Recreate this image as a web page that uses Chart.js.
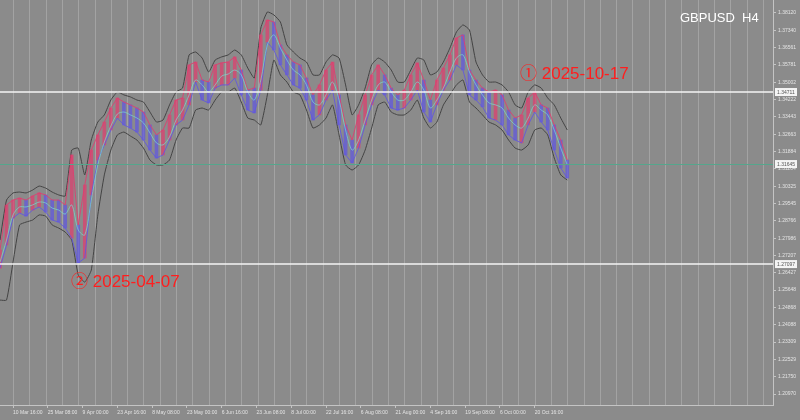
<!DOCTYPE html>
<html lang="en">
<head>
  <meta charset="UTF-8" />
  <title>GBPUSD H4</title>
  <script src="https://cdn.jsdelivr.net/npm/chart.js"></script>
  <style>
    html, body { margin: 0; padding: 0; background: #8b8b8b; }
    #wrap { width: 800px; height: 420px; }
  </style>
</head>
<body>
  <div id="wrap"><canvas id="chart" width="800" height="420"></canvas></div>

  <script>
    // 2-day steps, price range of each step
    const highs = [
      1.2745, 1.2948, 1.2970, 1.2979, 1.2970, 1.2988, 1.3002, 1.2993, 1.2970, 1.2970,
      1.2948, 1.3173, 1.2858, 1.3038, 1.3195, 1.3263, 1.3321, 1.3384, 1.3429, 1.3411,
      1.3398, 1.3384, 1.3366, 1.3308, 1.3263, 1.3285, 1.3353, 1.3420, 1.3429, 1.3578,
      1.3591, 1.3510, 1.3501, 1.3578, 1.3587, 1.3591, 1.3614, 1.3555, 1.3465, 1.3474,
      1.3713, 1.3780, 1.3771, 1.3668, 1.3623, 1.3591, 1.3578, 1.3519, 1.3443, 1.3488,
      1.3555, 1.3591, 1.3443, 1.3308, 1.3240, 1.3353, 1.3443, 1.3533, 1.3578, 1.3533,
      1.3474, 1.3443, 1.3465, 1.3533, 1.3587, 1.3510, 1.3420, 1.3510, 1.3564, 1.3623,
      1.3699, 1.3713, 1.3555, 1.3510, 1.3474, 1.3456, 1.3465, 1.3443, 1.3375, 1.3339,
      1.3353, 1.3429, 1.3456, 1.3398, 1.3384, 1.3308, 1.3240, 1.3150
    ];
    const lows = [
      1.2664, 1.2768, 1.2889, 1.2912, 1.2898, 1.2925, 1.2939, 1.2916, 1.2880, 1.2871,
      1.2844, 1.2799, 1.2687, 1.2709, 1.2993, 1.3150, 1.3218, 1.3285, 1.3339, 1.3308,
      1.3294, 1.3276, 1.3240, 1.3195, 1.3159, 1.3173, 1.3240, 1.3308, 1.3330, 1.3398,
      1.3501, 1.3420, 1.3407, 1.3474, 1.3488, 1.3488, 1.3519, 1.3443, 1.3375, 1.3362,
      1.3465, 1.3681, 1.3645, 1.3578, 1.3533, 1.3488, 1.3474, 1.3420, 1.3330, 1.3353,
      1.3420, 1.3465, 1.3308, 1.3173, 1.3137, 1.3204, 1.3308, 1.3398, 1.3465, 1.3443,
      1.3384, 1.3375, 1.3384, 1.3420, 1.3465, 1.3366, 1.3321, 1.3398, 1.3465, 1.3510,
      1.3578, 1.3555, 1.3443, 1.3420, 1.3389, 1.3339, 1.3330, 1.3308, 1.3263, 1.3240,
      1.3227, 1.3308, 1.3366, 1.3321, 1.3285, 1.3195, 1.3114, 1.3069
    ];
    const bbUpper = [
      1.2790, 1.2970, 1.3002, 1.3006, 1.3002, 1.3015, 1.3033, 1.3024, 1.3006, 1.2993,
      1.2988, 1.3195, 1.3204, 1.3083, 1.3240, 1.3321, 1.3353, 1.3420, 1.3456, 1.3443,
      1.3434, 1.3420, 1.3411, 1.3366, 1.3321, 1.3330, 1.3398, 1.3456, 1.3474, 1.3623,
      1.3636, 1.3609, 1.3546, 1.3600, 1.3614, 1.3623, 1.3645, 1.3623, 1.3564, 1.3519,
      1.3744, 1.3816, 1.3803, 1.3771, 1.3668, 1.3636, 1.3609, 1.3591, 1.3533, 1.3533,
      1.3591, 1.3623, 1.3609, 1.3488, 1.3353, 1.3398, 1.3474, 1.3578, 1.3609, 1.3591,
      1.3555, 1.3501, 1.3501, 1.3555, 1.3609, 1.3600, 1.3533, 1.3546, 1.3591, 1.3654,
      1.3726, 1.3758, 1.3735, 1.3591, 1.3533, 1.3501, 1.3501, 1.3488, 1.3456, 1.3398,
      1.3384, 1.3456, 1.3488, 1.3474, 1.3429, 1.3398, 1.3339, 1.3285
    ];
    const bbLower = [
      1.2520, 1.2520, 1.2691, 1.2858, 1.2871, 1.2880, 1.2903, 1.2898, 1.2858, 1.2844,
      1.2826, 1.2790, 1.2633, 1.2601, 1.2655, 1.2903, 1.3083, 1.3195, 1.3263, 1.3276,
      1.3258, 1.3240, 1.3204, 1.3150, 1.3128, 1.3128, 1.3150, 1.3240, 1.3294, 1.3294,
      1.3375, 1.3384, 1.3375, 1.3420, 1.3456, 1.3456, 1.3474, 1.3411, 1.3339, 1.3330,
      1.3308, 1.3443, 1.3600, 1.3533, 1.3501, 1.3456, 1.3443, 1.3375, 1.3294, 1.3308,
      1.3339, 1.3398, 1.3263, 1.3128, 1.3105, 1.3128, 1.3195, 1.3294, 1.3398, 1.3411,
      1.3366, 1.3353, 1.3353, 1.3375, 1.3420, 1.3339, 1.3294, 1.3321, 1.3398, 1.3443,
      1.3488, 1.3510, 1.3411, 1.3384, 1.3353, 1.3321, 1.3308, 1.3285, 1.3240, 1.3204,
      1.3195, 1.3218, 1.3285, 1.3294, 1.3263, 1.3159, 1.3083, 1.3060
    ];
    const maLine = [
      1.2691, 1.2790, 1.2903, 1.2939, 1.2939, 1.2948, 1.2961, 1.2957, 1.2934, 1.2925,
      1.2907, 1.2948, 1.2835, 1.2813, 1.2970, 1.3128, 1.3231, 1.3303, 1.3357, 1.3366,
      1.3353, 1.3339, 1.3317, 1.3272, 1.3227, 1.3218, 1.3254, 1.3330, 1.3375, 1.3443,
      1.3510, 1.3488, 1.3456, 1.3488, 1.3528, 1.3537, 1.3555, 1.3533, 1.3456, 1.3420,
      1.3510, 1.3668, 1.3713, 1.3654, 1.3600, 1.3555, 1.3533, 1.3488, 1.3411, 1.3398,
      1.3443, 1.3501, 1.3420, 1.3285, 1.3195, 1.3240, 1.3330, 1.3420, 1.3488, 1.3501,
      1.3456, 1.3420, 1.3420, 1.3456, 1.3501, 1.3465, 1.3384, 1.3420, 1.3474, 1.3546,
      1.3609, 1.3623, 1.3546, 1.3488, 1.3443, 1.3407, 1.3398, 1.3384, 1.3339, 1.3308,
      1.3294, 1.3339, 1.3398, 1.3375, 1.3353, 1.3285, 1.3204, 1.3128
    ];

    // x axis is in trading days (6 H4 bars per day)
    const days = highs.map((_, i) => i * 2);
    const dateLabels = [
      '10 Mar 16:00', '25 Mar 08:00', '9 Apr 00:00', '23 Apr 16:00', '8 May 08:00',
      '23 May 00:00', '6 Jun 16:00', '23 Jun 08:00', '8 Jul 00:00', '22 Jul 16:00',
      '6 Aug 08:00', '21 Aug 00:00', '4 Sep 16:00', '19 Sep 08:00', '6 Oct 00:00',
      '20 Oct 16:00'
    ];
    const labelDays = dateLabels.map((_, i) => 4 + i * 64 / 6);
    const gridDays = [];
    for (let d = 4; d < 237; d += 5) gridDays.push(d);

    const priceTicks = [
      1.38120, 1.37340, 1.36561, 1.35781, 1.35002, 1.34222, 1.33443, 1.32663,
      1.31884, 1.31104, 1.30325, 1.29545, 1.28766, 1.27986, 1.27207, 1.26427,
      1.25648, 1.24868, 1.24088, 1.23309, 1.22529, 1.21750, 1.20970
    ];

    // horizontal levels
    const levelValues = [1.3456, 1.2682];
    const levelLabels = ['1.34711', '1.27097'];
    const bidValue = 1.3132;
    const bidLabel = '1.31645';

    const TICK_COLOR = '#e4e4e4';
    const FRAME = '#c4c4c4';

    const noPad = s => {
      s.paddingTop = 0; s.paddingBottom = 0; s.paddingLeft = 0; s.paddingRight = 0;
    };

    const overlay = {
      id: 'overlay',
      beforeDatasetsDraw(chart) {
        const { ctx, chartArea, scales } = chart;
        ctx.save();
        ctx.strokeStyle = '#a3a3a3';
        ctx.lineWidth = 1;
        gridDays.forEach(d => {
          const x = Math.round(scales.x.getPixelForValue(d)) + 0.5;
          ctx.beginPath();
          ctx.moveTo(x, chartArea.top);
          ctx.lineTo(x, chartArea.bottom);
          ctx.stroke();
        });
        ctx.restore();
      },
      afterDatasetsDraw(chart) {
        const { ctx, chartArea, scales } = chart;
        const y = scales.y;
        ctx.save();

        // bid line
        const by = Math.round(y.getPixelForValue(bidValue)) + 0.5;
        ctx.strokeStyle = '#55a68c';
        ctx.lineWidth = 1;
        ctx.beginPath();
        ctx.moveTo(chartArea.left, by);
        ctx.lineTo(chartArea.right, by);
        ctx.stroke();

        // white levels
        ctx.strokeStyle = '#f4f4f4';
        ctx.lineWidth = 1.5;
        levelValues.forEach(v => {
          const py = y.getPixelForValue(v);
          ctx.beginPath();
          ctx.moveTo(chartArea.left, py);
          ctx.lineTo(chartArea.right, py);
          ctx.stroke();
        });

        // price boxes on the axis
        ctx.font = '5px "Liberation Sans", sans-serif';
        ctx.textBaseline = 'middle';
        ctx.textAlign = 'left';
        const boxes = levelValues.map((v, i) => [v, levelLabels[i]]).concat([[bidValue, bidLabel]]);
        boxes.forEach(([v, txt]) => {
          const py = y.getPixelForValue(v);
          ctx.fillStyle = '#f4f4f4';
          ctx.fillRect(chartArea.right + 2, py - 4, 22, 8);
          ctx.fillStyle = '#555';
          ctx.fillText(txt, chartArea.right + 4, py + 0.5);
        });

        // annotations
        ctx.fillStyle = '#ff1e1e';
        ctx.font = '17px "Liberation Sans", "Noto Sans CJK JP", sans-serif';
        ctx.textBaseline = 'middle';
        ctx.fillText('\u2460 2025-10-17', 520, 74);
        ctx.fillText('\u2461 2025-04-07', 71, 282);

        // symbol
        ctx.fillStyle = '#ffffff';
        ctx.font = '13px "Liberation Sans", sans-serif';
        ctx.fillText('GBPUSD  H4', 680, 18);
        ctx.restore();
      }
    };

    const ctx = document.getElementById('chart').getContext('2d');
    new Chart(ctx, {
      data: {
        datasets: [
          {
            type: 'line',
            label: 'BB upper',
            data: days.map((d, i) => ({ x: d, y: bbUpper[i] })),
            borderColor: '#444444',
            borderWidth: 1,
            pointRadius: 0,
            tension: 0.15,
            order: 3
          },
          {
            type: 'line',
            label: 'BB lower',
            data: days.map((d, i) => ({ x: d, y: bbLower[i] })),
            borderColor: '#444444',
            borderWidth: 1,
            pointRadius: 0,
            tension: 0.15,
            order: 3
          },
          {
            type: 'bar',
            label: 'Range',
            data: days.map((d, i) => ({ x: d, y: [lows[i], highs[i]] })),
            backgroundColor: c => {
              const i = c.dataIndex;
              const mid = (highs[i] + lows[i]) / 2;
              const prev = i > 0 ? (highs[i - 1] + lows[i - 1]) / 2 : mid;
              return mid >= prev ? 'rgba(226,60,110,0.7)' : 'rgba(96,86,226,0.7)';
            },
            barThickness: 3,
            grouped: false,
            order: 2
          },
          {
            type: 'line',
            label: 'Highs',
            data: days.map((d, i) => ({ x: d, y: highs[i] })),
            borderColor: 'rgba(226,60,110,0.85)',
            borderWidth: 1,
            pointRadius: 0,
            order: 1
          },
          {
            type: 'line',
            label: 'Lows',
            data: days.map((d, i) => ({ x: d, y: lows[i] })),
            borderColor: 'rgba(96,86,226,0.85)',
            borderWidth: 1,
            pointRadius: 0,
            order: 1
          },
          {
            type: 'line',
            label: 'MA',
            data: days.map((d, i) => ({ x: d, y: maLine[i] })),
            borderColor: 'rgba(120,220,210,0.7)',
            borderWidth: 1,
            pointRadius: 0,
            tension: 0.3,
            order: 0
          }
        ]
      },
      options: {
        responsive: false,
        animation: false,
        devicePixelRatio: 1,
        layout: { padding: 0 },
        plugins: {
          legend: { display: false },
          tooltip: { enabled: false }
        },
        scales: {
          x: {
            type: 'linear',
            offset: false,
            min: 0,
            max: 237.1,
            afterBuildTicks: s => { s.ticks = labelDays.map(v => ({ value: v })); },
            afterFit: s => { s.height = 15; noPad(s); },
            grid: { drawOnChartArea: false, tickLength: 3, color: FRAME, offset: false },
            border: { display: true, color: FRAME },
            ticks: {
              autoSkip: false,
              maxRotation: 0,
              align: 'start',
              padding: 2,
              color: TICK_COLOR,
              font: { family: 'Liberation Sans', size: 5 },
              callback: (v, i) => dateLabels[i]
            }
          },
          y: {
            type: 'linear',
            position: 'right',
            min: 1.2048,
            max: 1.3870,
            afterBuildTicks: s => { s.ticks = priceTicks.map(v => ({ value: v })); },
            afterFit: s => { s.width = 27; noPad(s); },
            grid: { drawOnChartArea: false, tickLength: 3, color: FRAME },
            border: { display: true, color: FRAME },
            ticks: {
              padding: 2,
              color: TICK_COLOR,
              font: { family: 'Liberation Sans', size: 5 },
              callback: v => v.toFixed(5)
            }
          }
        }
      },
      plugins: [overlay]
    });
  </script>
</body>
</html>
